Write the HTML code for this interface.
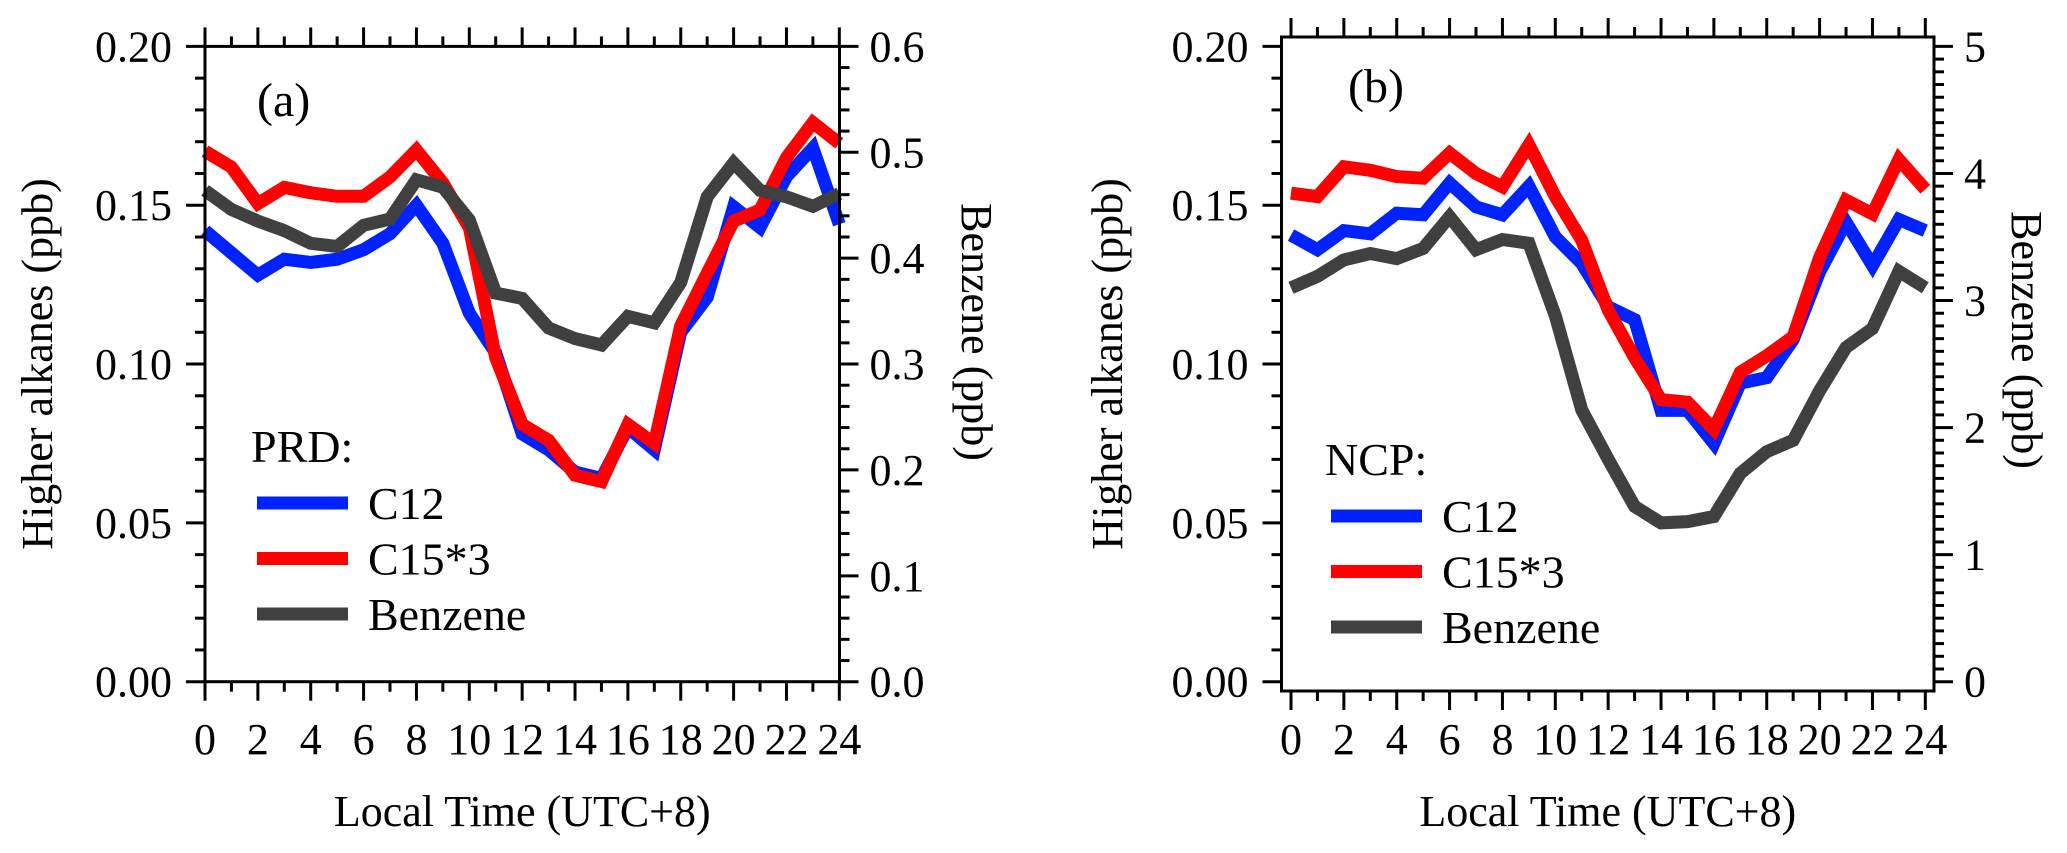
<!DOCTYPE html>
<html><head><meta charset="utf-8">
<style>
html,body{margin:0;padding:0;background:#fff;}
svg{display:block;}
text{font-family:"Liberation Serif",serif;fill:#000;}
</style></head>
<body>
<svg id="chart" width="2067" height="853" viewBox="0 0 2067 853" xmlns="http://www.w3.org/2000/svg"></svg>
<script>
const hours = [0,1,2,3,4,5,6,7,8,9,10,11,12,13,14,15,16,17,18,19,20,21,22,23,24];
const xTickLabels = ["0","2","4","6","8","10","12","14","16","18","20","22","24"];
const leftTickLabels = ["0.00","0.05","0.10","0.15","0.20"];
const rightTickLabelsA = ["0.0","0.1","0.2","0.3","0.4","0.5","0.6"];
const rightTickLabelsB = ["0","1","2","3","4","5"];
// Panel (a) PRD
const prdC12 = [0.142,0.135,0.128,0.133,0.132,0.133,0.136,0.141,0.150,0.138,0.116,0.1035,0.078,0.073,0.066,0.064,0.080,0.073,0.110,0.121,0.1495,0.143,0.159,0.168,0.144];
const prdC15x3 = [0.167,0.162,0.1505,0.1556,0.1539,0.1528,0.1528,0.1589,0.1674,0.157,0.143,0.102,0.081,0.076,0.065,0.063,0.081,0.075,0.112,0.1286,0.145,0.1485,0.165,0.176,0.1695];
const prdBenzene = [0.464,0.446,0.435,0.426,0.414,0.411,0.431,0.437,0.474,0.467,0.436,0.367,0.362,0.334,0.324,0.318,0.345,0.339,0.377,0.458,0.490,0.464,0.458,0.449,0.461];
// Panel (b) NCP
const ncpC12 = [0.1406,0.136,0.142,0.141,0.1475,0.147,0.157,0.1495,0.147,0.156,0.140,0.1317,0.118,0.114,0.0854,0.0854,0.075,0.094,0.0957,0.1077,0.129,0.1447,0.131,0.1455,0.142];
const ncpC15x3 = [0.1538,0.1527,0.1621,0.161,0.159,0.1585,0.1664,0.160,0.1558,0.169,0.1527,0.139,0.117,0.102,0.0888,0.088,0.0794,0.0974,0.1026,0.1086,0.1335,0.1516,0.1473,0.1644,0.155];
const ncpBenzene = [3.10,3.19,3.32,3.37,3.33,3.41,3.66,3.40,3.48,3.45,2.88,2.14,1.75,1.38,1.25,1.26,1.30,1.64,1.81,1.90,2.29,2.63,2.78,3.23,3.10];

const NS = "http://www.w3.org/2000/svg";
const svg = document.getElementById('chart');
function mk(tag, attrs, parent){
  const e = document.createElementNS(NS, tag);
  for (const k in attrs) e.setAttribute(k, attrs[k]);
  (parent||svg).appendChild(e);
  return e;
}

function panel(cfg){
  const g = mk('g', {});
  
  
  const x0 = cfg.x0, pxh = cfg.pxh;
  const xs = h => x0 + h*pxh;
  const yL = v => cfg.yBot - v/0.2*(cfg.yBot-cfg.yTop);
  const yR = v => cfg.yBot - v/cfg.rMax*(cfg.yBot-cfg.yTop);
  const series = [
    {vals: cfg.benz, col:'#404040', scale:yR, name:'benzene-line'},
    {vals: cfg.c15, col:'#ff0000', scale:yL, name:'c15x3-line'},
    {vals: cfg.c12, col:'#0022ff', scale:yL, name:'c12-line'}
  ];
  cfg.order.forEach(i=>{
    const s = series[i];
    const pts = hours.map((h,k)=>xs(h).toFixed(1)+','+s.scale(s.vals[k]).toFixed(1)).join(' ');
    const pl = mk('polyline', {points:pts, fill:'none', stroke:s.col, 'stroke-width':13, 'stroke-linejoin':'miter','stroke-miterlimit':3}, g);
    
    
  });
  const fr = mk('rect', {x:cfg.fl, y:cfg.ft, width:cfg.fr-cfg.fl, height:cfg.fb-cfg.ft, fill:'none', stroke:'#000', 'stroke-width':3}, g);
  
  
  for (let h=0; h<=24; h++){
    const major = h%2===0;
    const L = major?19:10;
    mk('line',{x1:xs(h),x2:xs(h),y1:cfg.fb,y2:cfg.fb+L,stroke:'#000','stroke-width':3},g);
    mk('line',{x1:xs(h),x2:xs(h),y1:cfg.ft,y2:cfg.ft-L,stroke:'#000','stroke-width':3},g);
  }
  xTickLabels.forEach((t,i)=>{
    const tx = mk('text',{x:xs(i*2),y:754,'font-size':44,'text-anchor':'middle'},g);
    tx.textContent = t;
    
    
  });
  for (let i=0;i<=20;i++){
    const v=i*0.01, major=i%5===0;
    mk('line',{x1:cfg.fl,x2:cfg.fl-(major?19:10),y1:yL(v),y2:yL(v),stroke:'#000','stroke-width':3},g);
  }
  leftTickLabels.forEach((t,i)=>{
    const tx = mk('text',{x:cfg.fl-33,y:yL(i*0.05)+15,'font-size':44,'text-anchor':'end'},g);
    tx.textContent=t;
    
    
  });
  const nMinor = Math.round(cfg.rMax/cfg.rMinor);
  const per = Math.round(cfg.rMajor/cfg.rMinor);
  for (let i=0;i<=nMinor;i++){
    const v=i*cfg.rMinor, major=i%per===0;
    mk('line',{x1:cfg.fr,x2:cfg.fr+(major?19:10),y1:yR(v),y2:yR(v),stroke:'#000','stroke-width':3},g);
  }
  cfg.rLabels.forEach((t,i)=>{
    const tx = mk('text',{x:cfg.fr+30,y:yR(i*cfg.rMajor)+15,'font-size':44},g);
    tx.textContent=t;
    
    
  });
  let t = mk('text',{x:(cfg.fl+cfg.fr)/2,y:826,'font-size':44,'text-anchor':'middle'},g);
  t.textContent='Local Time (UTC+8)';
   
  t = mk('text',{x:0,y:0,'font-size':44,'text-anchor':'middle',transform:`translate(${cfg.ltx},364) rotate(-90)`},g);
  t.textContent='Higher alkanes (ppb)';
   
  t = mk('text',{x:0,y:0,'font-size':44,'text-anchor':'middle',transform:`translate(${cfg.rtx},${cfg.rty}) rotate(90)`},g);
  t.textContent='Benzene (ppb)';
   
  t = mk('text',{x:cfg.lblx,y:cfg.lbly,'font-size':48},g);
  t.textContent=cfg.label;
   
  t = mk('text',{x:cfg.legX-6,y:cfg.legY0,'font-size':46},g);
  t.textContent=cfg.region;
   
  const ents=[['C12','#0022ff'],['C15*3','#ff0000'],['Benzene','#404040']];
  ents.forEach((e,i)=>{
    const y = cfg.legY1 + i*55.5;
    const ln = mk('line',{x1:cfg.legX,x2:cfg.legX+91,y1:y,y2:y,stroke:e[1],'stroke-width':13},g);
     
    const tx = mk('text',{x:cfg.legX+111,y:y+16,'font-size':46},g);
    tx.textContent=e[0];
     
  });
}

panel({name:'panel-a-prd', x0:205, pxh:26.43, yTop:46.4, yBot:681.7, fl:205, fr:839.5, ft:46.4, fb:681.7,
  rMax:0.6, rMajor:0.1, rMinor:0.02, rLabels:rightTickLabelsA,
  c12:prdC12, c15:prdC15x3, benz:prdBenzene, order:[2,1,0],
  ltx:52, rtx:962, rty:332, lblx:257, lbly:116, label:'(a)',
  region:'PRD:', legX:257, legY0:462, legY1:503});
panel({name:'panel-b-ncp', x0:1291, pxh:26.43, yTop:46.4, yBot:681.7, fl:1281.5, fr:1934, ft:37, fb:691,
  rMax:5, rMajor:1, rMinor:0.1, rLabels:rightTickLabelsB,
  c12:ncpC12, c15:ncpC15x3, benz:ncpBenzene, order:[0,2,1],
  ltx:1122, rtx:2012, rty:340, lblx:1348, lbly:102, label:'(b)',
  region:'NCP:', legX:1331, legY0:475, legY1:516});
</script>
</body></html>
